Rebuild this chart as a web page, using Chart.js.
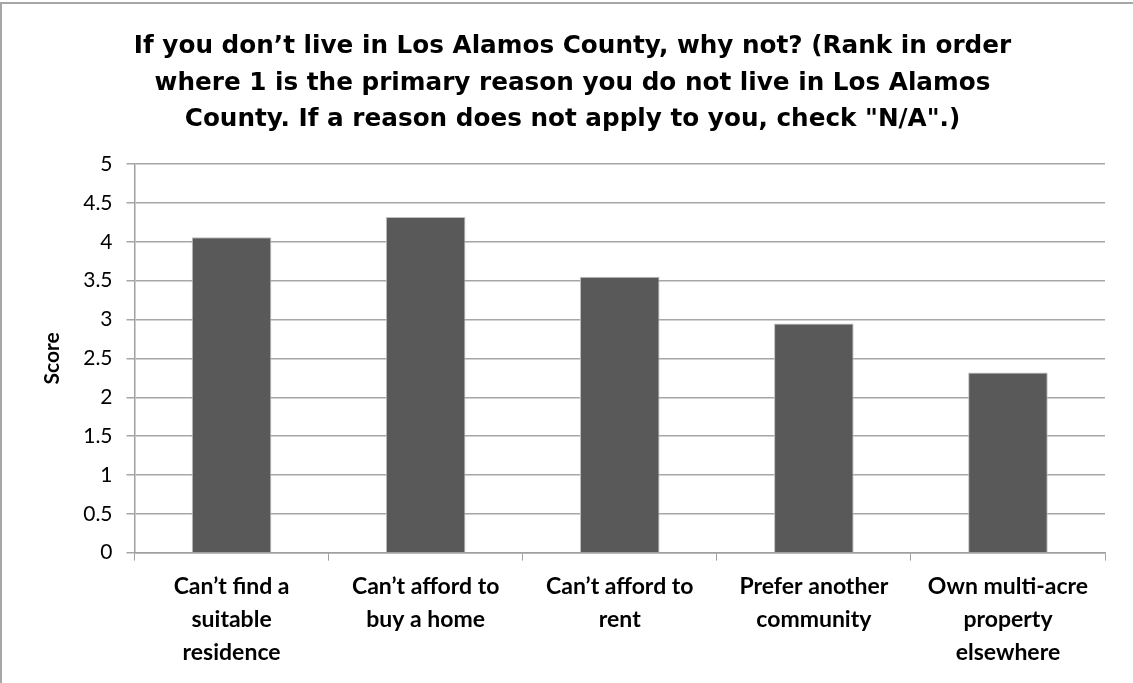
<!DOCTYPE html>
<html>
<head>
<meta charset="utf-8">
<script src="https://cdn.jsdelivr.net/npm/chart.js@4/dist/chart.umd.min.js"></script>
<style>
	html, body { margin: 0; padding: 0; background: #fff; }
	#wrap { position: relative; width: 1133px; height: 683px; }
	#frame {
		position: absolute; left: 0; top: 2px; right: 0; bottom: 0;
		border-left: 2px solid #a6a6a6; border-top: 2px solid #a6a6a6;
		pointer-events: none;
	}
</style>
</head>
<body>
<div id="wrap">
	<canvas id="chart0"></canvas>
	<div id="frame"></div>
</div>
<script>
// survey results: mean rank score per reason
const reasons = [
	["Can\u2019t find a", "suitable", "residence"],
	["Can\u2019t afford to", "buy a home"],
	["Can\u2019t afford to", "rent"],
	["Prefer another", "community"],
	["Own multi-acre", "property", "elsewhere"]
];
const scores = [4.06, 4.32, 3.55, 2.95, 2.32];
const titleLines = [
	"If you don\u2019t live in Los Alamos County, why not? (Rank in order",
	"where 1 is the primary reason you do not live in Los Alamos",
	"County. If a reason does not apply to you, check \"N/A\".)"
];
const axisTitle = "Score";

const labelFont = "Lato, 'Open Sans', sans-serif";

new Chart(document.getElementById("chart0"), {
	type: 'bar',
	data: {
		labels: reasons,
		datasets: [{
			data: scores,
			backgroundColor: '#595959',
			borderColor: '#bfbfbf',
			borderWidth: 1,
			categoryPercentage: 1.0,
			barPercentage: 0.41
		}]
	},
	options: {
		responsive: true,
		maintainAspectRatio: false,
		animation: false,
		layout: {
			padding: { left: 40, right: 28, top: 0, bottom: 5 }
		},
		plugins: {
			legend: { display: false },
			tooltip: { enabled: false },
			title: {
				display: true,
				text: titleLines,
				color: '#000',
				font: { family: "'DejaVu Sans', sans-serif", size: 24.7, weight: 'bold', lineHeight: 1.46 },
				padding: { top: 29, bottom: 27 }
			}
		},
		scales: {
			x: {
				grid: {
					display: true,
					drawOnChartArea: false,
					drawTicks: true,
					tickLength: 8,
					color: '#a0a0a0',
					offset: true
				},
				border: { display: true, color: '#a0a0a0', width: 1.5 },
				ticks: {
					color: '#000',
					maxRotation: 0,
					autoSkip: false,
					padding: 9,
					font: { family: labelFont, size: 23, weight: 'bold', lineHeight: 1.44 }
				}
			},
			y: {
				min: 0,
				max: 5,
				grid: {
					color: '#a6a6a6',
					lineWidth: 1.5,
					drawTicks: true,
					tickLength: 8
				},
				border: { display: true, color: '#a0a0a0', width: 1.5 },
				ticks: {
					stepSize: 0.5,
					color: '#000',
					padding: 14,
					font: { family: labelFont, size: 21 },
					callback: v => String(v)
				},
				title: {
					display: true,
					text: axisTitle,
					color: '#000',
					padding: { top: 0, bottom: 4 },
					font: { family: labelFont, size: 21, weight: 'bold' }
				}
			}
		}
	}
});
</script>
</body>
</html>
